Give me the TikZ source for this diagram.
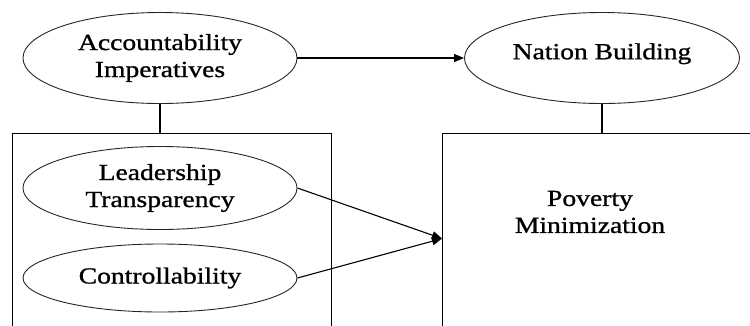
\documentclass[tikz,border=0pt]{standalone}
\usepackage{fontspec}
\setmainfont[FakeStretch=1.2, FakeBold=1]{Liberation Serif}
\usetikzlibrary{arrows.meta, positioning, shapes.geometric}
\tikzset{
  construct/.style={draw=black!85, ellipse, line width=0.9pt, align=center, inner sep=0pt, minimum width=274pt, minimum height=91pt},
  group/.style={draw, line width=1.1pt, inner sep=0pt},
  arrow/.style={-{Triangle[length=10pt,width=8pt]}, line width=1.1pt},
  link/.style={line width=1.1pt},
  every node/.style={font=\fontsize{23}{27}\selectfont}
}

\begin{document}
\begin{tikzpicture}[x=1pt, y=-1pt]
    \useasboundingbox (0,0) rectangle (750,325);
    % the two frames run past the lower edge
    \node[group, minimum width=319pt, minimum height=220pt, anchor=north west] (grp) at (12,133) {};
    \node[group, minimum width=320pt, minimum height=210pt, anchor=north west] (povbox) at (442,133) {};
    \node[construct] (acc) at (160,58) {Accountability\\Imperatives};
    \node[construct, minimum height=83pt] (lead) at (160,188) {Leadership\\Transparency};
    \node[construct, minimum height=68pt] (ctrl) at (160,278) {Controllability};
    \node[construct, minimum width=275pt, text depth=13.5pt] (nation) at (602,58) {Nation Building};
    \node[align=center] (pov) at (590,212) {Poverty\\Minimization};
    \draw[arrow] (acc) -- (nation);
    \draw[link] (acc.south) -- (acc.south |- grp.north);
    \draw[link] (nation.south) -- (nation.south |- povbox.north);
    \draw[arrow] (lead.east) -- (povbox.west);
    \draw[arrow] (ctrl.east) -- (povbox.west);
\end{tikzpicture}
\end{document}
